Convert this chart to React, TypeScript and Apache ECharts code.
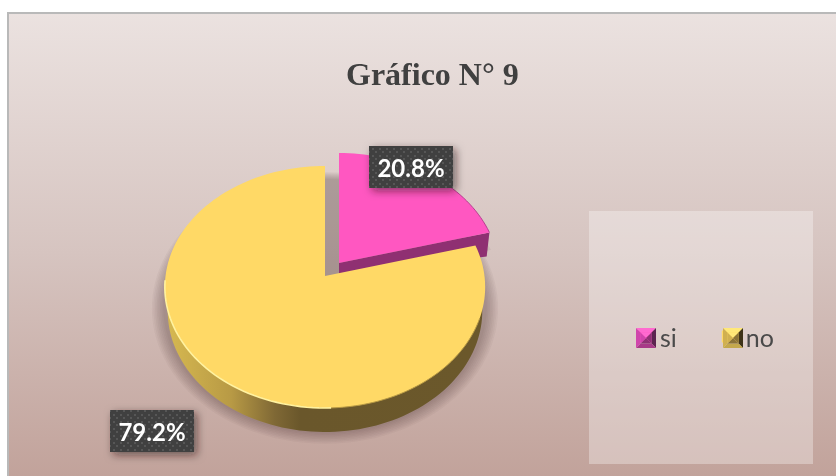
import React, { useEffect, useRef } from "react";
import * as echarts from "echarts";

const categories = ["si", "no"];
const values = [20.8, 79.2];
const titleText = "Gráfico N° 9";
const total = values[0] + values[1];

// Perspective disc: unit-disc point -> page pixel
const CX = 325, CY = 276, RX = 159.5, RY = 120, K = 0.0909;
const project = (r: number, deg: number, dx = 0, dy = 0, lower = false) => {
  const a = (deg * Math.PI) / 180;
  const u = r * Math.sin(a), v = r * Math.cos(a);
  const s = 1 / (1 + K * v);
  const shrink = lower ? 0.982 : 1;
  const drop = lower ? 11.5 + 12.5 * r : 0;
  return [CX + dx + RX * u * s * shrink, CY + dy - RY * v * s + drop];
};
const arc = (from: number, to: number, dx = 0, dy = 0, lower = false) => {
  const pts: number[][] = [];
  const n = Math.max(2, Math.ceil(Math.abs(to - from) / 2));
  for (let i = 0; i <= n; i++) pts.push(project(1, from + ((to - from) * i) / n, dx, dy, lower));
  return pts;
};
const sweep = (i: number) => {
  const start = values.slice(0, i).reduce((s, v) => s + v, 0);
  return [(start / total) * 360, ((start + values[i]) / total) * 360];
};
// soft shadow outline: sits below the disc, further down at the front
const shadowRing = (r: number) => {
  const pts: number[][] = [];
  for (let d = 0; d < 360; d += 3) {
    const drop = 14 + (10 * (1 - Math.cos((d * Math.PI) / 180))) / 2;
    pts.push(project(r, d, 0, drop));
  }
  return pts;
};
const wedgeShadow = (grow: number) => {
  const [a, b] = sweep(0);
  const pts: number[][] = [project(0, 0, 14, 1, true)];
  for (let d = a; d <= b; d += 3) pts.push(project(1 + grow, d, 14, -13, true));
  return pts;
};
const makeDots = () => {
  const c = document.createElement("canvas");
  c.width = 7; c.height = 7;
  const g = c.getContext("2d")!;
  g.fillStyle = "#404040"; g.fillRect(0, 0, 7, 7);
  g.fillStyle = "#565656"; g.fillRect(1, 1, 2, 2);
  g.fillRect(4, 4, 2, 2);
  return c;
};
const labelEl = (i: number, x: number, y: number, dots: HTMLCanvasElement) => [
  { type: "rect", shape: { x, y, width: 84, height: 42 },
    style: { fill: "#404040", shadowBlur: 9, shadowOffsetX: 3, shadowOffsetY: 3, shadowColor: "rgba(40,20,20,0.55)" } },
  { type: "rect", shape: { x, y, width: 84, height: 42 }, style: { fill: { image: dots, repeat: "repeat" } } },
  { type: "text", x: x + 42, y: y + 21,
    style: { text: ((values[i] / total) * 100).toFixed(1) + "%", fill: "#ffffff", font: "bold 24px Lato", align: "center", verticalAlign: "middle" } },
];
const bevel = (x: number, y: number, s: number, c: string[]) => {
  const m = s * 0.22, q = s - m;
  const poly = (points: number[][], fill: string) => ({ type: "polygon", z: 100, shape: { points: points.map(([a, b]) => [x + a, y + b]) }, style: { fill } });
  return [
    poly([[0, 0], [s, 0], [q, m], [m, m]], c[0]),
    poly([[s, 0], [s, s], [q, q], [q, m]], c[1]),
    poly([[0, s], [s, s], [q, q], [m, q]], c[2]),
    poly([[0, 0], [0, s], [m, q], [m, m]], c[3]),
    poly([[m, m], [q, m], [s / 2, s / 2]], c[0]),
    poly([[m, q], [q, q], [s / 2, s / 2]], c[4]),
    poly([[m, m], [m, q], [s / 2, s / 2]], c[3]),
    poly([[q, m], [q, q], [s / 2, s / 2]], c[4]),
  ];
};

export default function App() {
  const ref = useRef<HTMLDivElement>(null);
  useEffect(() => {
    const chart = echarts.init(ref.current!, undefined, { renderer: "svg" });
    const dots = makeDots();
    const wall = {
      type: "linear", x: 168, y: 0, x2: 483, y2: 0, global: true,
      colorStops: [
        { offset: 0, color: "#d6b850" }, { offset: 0.2, color: "#b89a45" },
        { offset: 0.34, color: "#7f6835" }, { offset: 0.42, color: "#6a572b" },
        { offset: 1, color: "#6b582b" },
      ],
    };
    const layers = [1.08, 1.07, 1.06, 1.05, 1.04, 1.03, 1.02, 1.01];
    const option: any = {
      animation: false,
      title: { text: titleText, left: 346, top: 58, padding: 0,
        textStyle: { fontFamily: "Liberation Serif", fontWeight: "bold", fontSize: 32, color: "#404040" } },
      legend: { data: categories, left: 636, top: 324, padding: 0, itemWidth: 20, itemHeight: 12, itemGap: 45,
        icon: "rect", selectedMode: false, textStyle: { fontFamily: "Lato", fontSize: 25, color: "#4a4a4a", padding: [0, 0, 0, -1] } },
      graphic: [
        { type: "rect", z: -10, shape: { x: 0, y: 0, width: 836, height: 476 }, style: { fill: "#ffffff" } },
        { type: "rect", z: -9, shape: { x: 8, y: 13, width: 840, height: 480 },
          style: { stroke: "#b9b9b9", lineWidth: 2, fill: {
            type: "linear", x: 0, y: 0, x2: 0, y2: 1,
            colorStops: [{ offset: 0, color: "#ebe2e0" }, { offset: 0.5, color: "#d6c4c0" }, { offset: 1, color: "#c0a098" }] } } },
        { type: "rect", z: -8, shape: { x: 589, y: 211, width: 224, height: 253 }, style: { fill: "rgba(255,255,255,0.32)" } },
        ...bevel(636, 328, 20, ["#ff6ad0", "#5c2450", "#a83a88", "#d045ac", "#8e3274"]),
        ...bevel(723, 328, 20, ["#ffe878", "#3e3318", "#c4a84c", "#d0b050", "#8a7338"]),
      ],
      series: [
        { type: "custom", name: "sombra", coordinateSystem: "none", z: 1, silent: true, data: [total],
          renderItem: () => ({ type: "group", children: [
            ...layers.map((r) => ({ type: "polygon", shape: { points: shadowRing(r) }, style: { fill: "rgba(70,45,45,0.043)" } })),
            ...[0.05, 0.03, 0.015].map((g) => ({ type: "polygon", shape: { points: wedgeShadow(g) }, style: { fill: "rgba(70,45,45,0.07)" } })),
          ] }) },
        { type: "custom", name: categories[0], coordinateSystem: "none", z: 2, itemStyle: { color: "#ff57c1" }, data: [values[0]],
          renderItem: () => {
            const [a, b] = sweep(0);
            const rim = arc(a, b, 14, -13);
            const apex = project(0, 0, 14, -13);
            return { type: "group", children: [
              { type: "polygon", shape: { points: [apex, project(1, b, 14, -13), project(1, b, 14, -13, true), project(0, 0, 14, -13, true)] }, style: { fill: "#8f3072" } },
              { type: "polygon", shape: { points: [apex, ...rim] }, style: { fill: "#ff57c1" } },
              { type: "polyline", shape: { points: rim.slice(Math.floor(rim.length * 0.5)) }, style: { stroke: "#b83f91", lineWidth: 1, fill: "none" } },
              ...labelEl(0, 369, 146, dots),
            ] };
          } },
        { type: "custom", name: categories[1], coordinateSystem: "none", z: 3, itemStyle: { color: "#ffd966" }, data: [values[1]],
          renderItem: () => {
            const [a, b] = sweep(1);
            const rim = arc(a, b);
            return { type: "group", children: [
              { type: "polygon", shape: { points: [project(0, 0, 0, 0, true), ...arc(a, b, 0, 0, true)] }, style: { fill: wall } },
              { type: "polygon", shape: { points: [project(0, 0), ...rim] }, style: { fill: "#ffd966" } },
              { type: "polyline", shape: { points: arc(178, 268) }, style: { stroke: "#fff2a0", lineWidth: 1.6, fill: "none" } },
              { type: "polyline", shape: { points: arc(110, 178) }, style: { stroke: "#b89a45", lineWidth: 1, fill: "none" } },
              ...labelEl(1, 110, 410, dots),
            ] };
          } },
      ],
    };
    chart.setOption(option);
    return () => chart.dispose();
  }, []);
  return <div ref={ref} style={{ position: "fixed", left: 0, top: 0, width: 836, height: 476 }} />;
}
